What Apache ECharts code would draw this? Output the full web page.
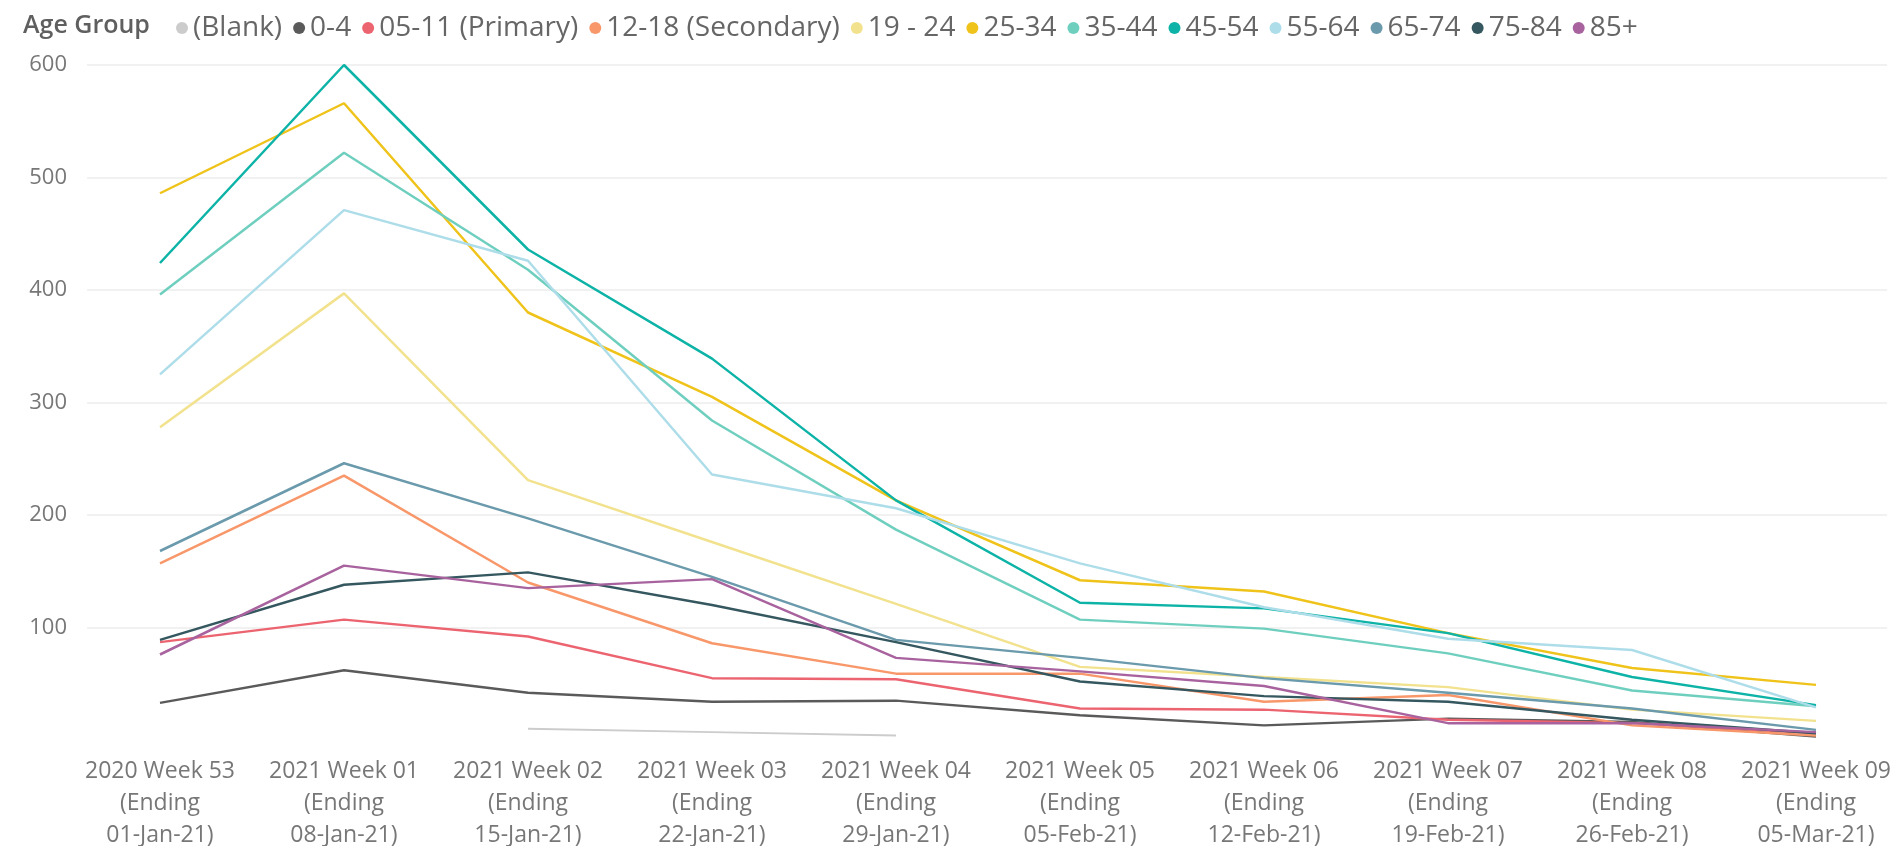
<!DOCTYPE html>
<html>
<head>
<meta charset="utf-8">
<script src="https://cdn.jsdelivr.net/npm/echarts@6/dist/echarts.min.js"></script>
<style>
  html, body { margin: 0; padding: 0; background: #fff; }
  #main { width: 1901px; height: 846px; }
</style>
</head>
<body>
<div id="main"></div>
<script>
// week labels on the x axis
var weeks = ['2020 Week 53', '2021 Week 01', '2021 Week 02', '2021 Week 03', '2021 Week 04',
  '2021 Week 05', '2021 Week 06', '2021 Week 07', '2021 Week 08', '2021 Week 09'];
var endings = ['01-Jan-21', '08-Jan-21', '15-Jan-21', '22-Jan-21', '29-Jan-21',
  '05-Feb-21', '12-Feb-21', '19-Feb-21', '26-Feb-21', '05-Mar-21'];

var ageGroups = ['(Blank)', '0-4', '05-11 (Primary)', '12-18 (Secondary)', '19 - 24', '25-34',
  '35-44', '45-54', '55-64', '65-74', '75-84', '85+'];

// cases per week, one array per age group
var blank   = [null, null, 10, 7, 4, null, null, null, null, null];
var age0_4  = [33, 62, 42, 34, 35, 22, 13, 19, 16, 3];
var age5_11 = [87, 107, 92, 55, 54, 28, 27, 18, 15, 6];
var age12_18 = [157, 235, 140, 86, 59, 59, 34, 40, 13, 4];
var age19_24 = [278, 397, 231, 176, 121, 65, 56, 47, 27, 17];
var age25_34 = [486, 566, 380, 305, 213, 142, 132, 95, 64, 49];
var age35_44 = [396, 522, 418, 284, 187, 107, 99, 77, 44, 30];
var age45_54 = [424, 600, 436, 339, 213, 122, 117, 95, 56, 31];
var age55_64 = [325, 471, 426, 236, 206, 157, 118, 90, 80, 29];
var age65_74 = [168, 246, 197, 145, 89, 73, 55, 42, 28, 9];
var age75_84 = [89, 138, 149, 120, 87, 52, 39, 34, 18, 6];
var age85   = [76, 155, 135, 143, 73, 61, 48, 15, 15, 7];

var yTicks = [0, 100, 200, 300, 400, 500, 600];

var values = [blank, age0_4, age5_11, age12_18, age19_24, age25_34,
  age35_44, age45_54, age55_64, age65_74, age75_84, age85];
var colors = ['#cccccc', '#5a5a5a', '#ec6470', '#f8976a', '#f2e28e', '#efc31a',
  '#6fcfbf', '#0db3a6', '#aeddea', '#6a9aab', '#35575f', '#a8639f'];

var categories = weeks.map(function (w, i) { return w + '\n(Ending\n' + endings[i] + ')'; });

var font = '"Open Sans", "Noto Sans", sans-serif';

var series = ageGroups.map(function (name, i) {
  return {
    name: name,
    type: 'line',
    xAxisIndex: 1,
    yAxisIndex: 1,
    data: values[i],
    symbol: 'none',
    color: colors[i],
    lineStyle: { width: i === 0 ? 2 : 2.5, color: colors[i] },
    z: 2 + i
  };
});

var chart = echarts.init(document.getElementById('main'));
chart.setOption({
  animation: false,
  backgroundColor: '#ffffff',
  title: {
    text: 'Age Group',
    left: 18,
    top: 8,
    textStyle: { fontFamily: font, fontSize: 25, fontWeight: 600, color: '#5f5f5f' }
  },
  legend: {
    data: ageGroups,
    left: 171,
    top: 9,
    icon: 'circle',
    itemWidth: 12,
    itemHeight: 12,
    itemGap: 11,
    textStyle: { fontFamily: font, fontSize: 28, color: '#666' }
  },
  // fixed plot boxes: wide one for the gridlines, inner one for the lines
  grid: [
    { left: 87, right: 14, top: 65, bottom: 106, outerBoundsMode: 'none' },
    { left: 160, right: 85, top: 65, bottom: 106, outerBoundsMode: 'none' }
  ],
  xAxis: [
    { gridIndex: 0, type: 'category', data: categories, show: false },
    {
      gridIndex: 1,
      type: 'category',
      data: categories,
      boundaryGap: false,
      axisLine: { show: false },
      axisTick: { show: false },
      splitLine: { show: false },
      axisLabel: {
        interval: 0,
        margin: 15,
        fontFamily: font,
        fontSize: 23,
        lineHeight: 32,
        color: '#777',
        align: 'center',
        verticalAlign: 'top'
      }
    }
  ],
  yAxis: [
    {
      gridIndex: 0,
      type: 'value',
      min: yTicks[0],
      max: yTicks[yTicks.length - 1],
      interval: 100,
      axisLine: { show: false },
      axisTick: { show: false },
      axisLabel: {
        showMinLabel: false,
        margin: 20,
        fontFamily: font,
        fontSize: 22,
        color: '#777'
      },
      splitLine: {
        lineStyle: {
          color: ['rgba(0,0,0,0)', '#ededed', '#ededed', '#ededed', '#ededed', '#ededed', '#ededed'],
          width: 1.5
        }
      }
    },
    {
      gridIndex: 1,
      type: 'value',
      min: yTicks[0],
      max: yTicks[yTicks.length - 1],
      interval: 100,
      show: false,
      splitLine: { show: false }
    }
  ],
  series: series
});
</script>
</body>
</html>
